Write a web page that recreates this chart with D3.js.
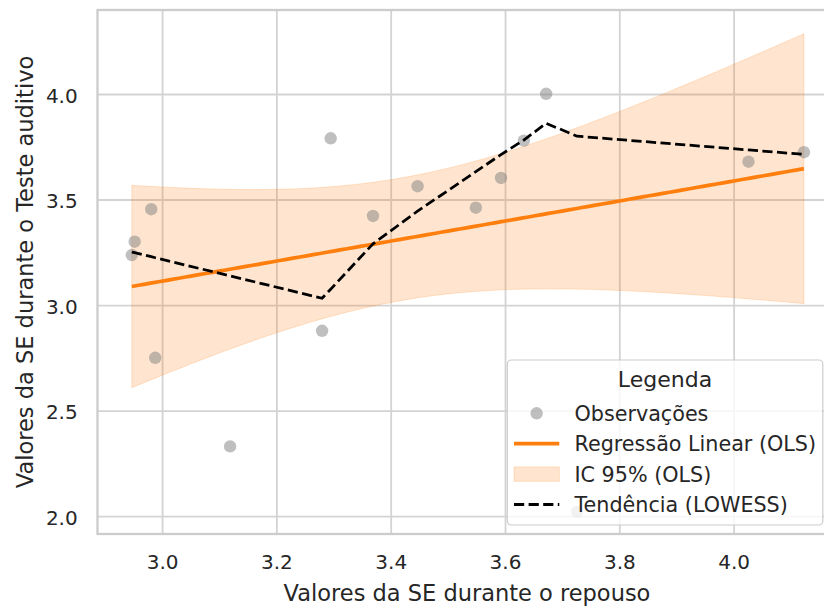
<!DOCTYPE html>
<html>
<head>
<meta charset="utf-8">
<script src="https://cdn.jsdelivr.net/npm/d3@7"></script>
<style>
  body { margin: 0; background: #fff; }
  svg { display: block; font-family: "DejaVu Sans", sans-serif; }
</style>
</head>
<body>
<svg id="chart" width="824" height="608"></svg>
<script>
// Observations: SE during rest (x) against SE during the auditory test (y)
const seRest = [2.947, 2.952, 2.981, 2.988, 3.119, 3.280, 3.295, 3.369, 3.447, 3.549, 3.593, 3.633, 3.672, 3.726, 4.026, 4.123];
const seTest = [3.237, 3.300, 3.454, 2.750, 2.330, 2.878, 3.790, 3.422, 3.563, 3.461, 3.602, 3.779, 4.001, 2.020, 3.679, 3.724];
// LOWESS fitted values, one per observation in the order above (already sorted by x)
const lowessFit = [3.251, 3.248, 3.229, 3.224, 3.138, 3.032, 3.075, 3.290, 3.445, 3.632, 3.713, 3.782, 3.861, 3.800, 3.735, 3.714];
const xTicks = [3.0, 3.2, 3.4, 3.6, 3.8, 4.0];
const yTicks = [2.0, 2.5, 3.0, 3.5, 4.0];
const legendTitle = "Legenda";
const legendLabels = ["Observações", "Regressão Linear (OLS)", "IC 95% (OLS)", "Tendência (LOWESS)"];
const xLabel = "Valores da SE durante o repouso";
const yLabel = "Valores da SE durante o Teste auditivo";

// ---- layout ----
const plotL = 97.5, plotR = 836.5, plotT = 10, plotB = 534;
const ORANGE = "#ff7f0e", INK = "#262626", GRID = "#d3d3d3", SPINE = "#cccccc";

const svg = d3.select("#chart");
svg.append("rect").attr("width", 824).attr("height", 608).attr("fill", "#fff");

const x = d3.scaleLinear().domain([2.887, 4.180]).range([plotL, plotR]);
const y = d3.scaleLinear().domain([1.915, 4.398]).range([plotB, plotT]);

// ---- OLS fit with 95% confidence band for the mean ----
const n = seRest.length;
const mx = d3.mean(seRest), my = d3.mean(seTest);
let sxx = 0, sxy = 0, syy = 0;
for (let i = 0; i < n; i++) {
  const dx = seRest[i] - mx, dy = seTest[i] - my;
  sxx += dx * dx; sxy += dx * dy; syy += dy * dy;
}
const slope = sxy / sxx, intercept = my - slope * mx;
const sResid = Math.sqrt((syy - slope * sxy) / (n - 2));
const tCrit = 2.1448; // Student t, 0.975 quantile, 14 degrees of freedom
const [xMin, xMax] = d3.extent(seRest);
const xs = d3.range(0, 101).map(k => xMin + (xMax - xMin) * k / 100);
const band = xs.map(v => {
  const fit = intercept + slope * v;
  const half = tCrit * sResid * Math.sqrt(1 / n + (v - mx) * (v - mx) / sxx);
  return { v, fit, lo: fit - half, hi: fit + half };
});

// ---- grid via axes ----
const gx = svg.append("g")
  .attr("transform", `translate(0,${plotB})`)
  .call(d3.axisBottom(x).tickValues(xTicks).tickFormat(d3.format(".1f"))
    .tickSize(-(plotB - plotT)).tickPadding(21));
gx.attr("font-size", 20).attr("font-family", "DejaVu Sans, sans-serif");
gx.select(".domain").remove();
gx.selectAll(".tick line").attr("stroke", GRID).attr("stroke-width", 1.8);
gx.selectAll(".tick text").attr("fill", INK);

const gy = svg.append("g")
  .attr("transform", `translate(${plotL},0)`)
  .call(d3.axisLeft(y).tickValues(yTicks).tickFormat(d3.format(".1f"))
    .tickSize(-(plotR - plotL)).tickPadding(19.8));
gy.attr("font-size", 20).attr("font-family", "DejaVu Sans, sans-serif");
gy.select(".domain").remove();
gy.selectAll(".tick line").attr("stroke", GRID).attr("stroke-width", 1.8);
gy.selectAll(".tick text").attr("fill", INK).attr("dy", "0.42em");

// ---- confidence band ----
svg.append("path")
  .datum(band)
  .attr("d", d3.area().x(d => x(d.v)).y0(d => y(d.lo)).y1(d => y(d.hi)))
  .attr("fill", ORANGE).attr("fill-opacity", 0.2)
  .attr("stroke", ORANGE).attr("stroke-opacity", 0.2).attr("stroke-width", 1);

// ---- observations ----
svg.append("g").selectAll("circle")
  .data(seRest.map((v, i) => [v, seTest[i]]))
  .join("circle")
  .attr("cx", d => x(d[0])).attr("cy", d => y(d[1])).attr("r", 6.2)
  .attr("fill", "#808080").attr("fill-opacity", 0.5);

// ---- OLS line ----
svg.append("path")
  .datum(band)
  .attr("d", d3.line().x(d => x(d.v)).y(d => y(d.fit)))
  .attr("fill", "none").attr("stroke", ORANGE).attr("stroke-width", 3.7);

// ---- LOWESS trend ----
svg.append("path")
  .datum(seRest.map((v, i) => [v, lowessFit[i]]))
  .attr("d", d3.line().x(d => x(d[0])).y(d => y(d[1])))
  .attr("fill", "none").attr("stroke", "#000").attr("stroke-width", 2.76)
  .attr("stroke-dasharray", "10.2,4.4");

// ---- spines ----
svg.append("rect")
  .attr("x", plotL).attr("y", plotT).attr("width", plotR - plotL).attr("height", plotB - plotT)
  .attr("fill", "none").attr("stroke", SPINE).attr("stroke-width", 2.3);

// ---- axis labels ----
svg.append("text")
  .attr("x", (plotL + plotR) / 2).attr("y", 600.5)
  .attr("text-anchor", "middle").attr("font-size", 22.5).attr("fill", INK)
  .text(xLabel);
svg.append("text")
  .attr("transform", `translate(33,${(plotT + plotB) / 2}) rotate(-90)`)
  .attr("text-anchor", "middle").attr("font-size", 22.5).attr("fill", INK)
  .text(yLabel);

// ---- legend ----
const lg = svg.append("g");
lg.append("rect")
  .attr("x", 507.3).attr("y", 360).attr("width", 315.5).attr("height", 165).attr("rx", 4)
  .attr("fill", "#fff").attr("fill-opacity", 0.8)
  .attr("stroke", SPINE).attr("stroke-width", 1.2);
lg.append("text")
  .attr("x", 665).attr("y", 386.7).attr("text-anchor", "middle")
  .attr("font-size", 22).attr("fill", INK).text(legendTitle);

const rowY = legendLabels.map((_, i) => 413.3 + i * 30.4);
const hx0 = 514, hx1 = 559.3;
lg.append("circle").attr("cx", (hx0 + hx1) / 2).attr("cy", rowY[0]).attr("r", 6.2)
  .attr("fill", "#808080").attr("fill-opacity", 0.5);
lg.append("line").attr("x1", hx0).attr("x2", hx1).attr("y1", rowY[1]).attr("y2", rowY[1])
  .attr("stroke", ORANGE).attr("stroke-width", 3.7);
lg.append("rect").attr("x", hx0).attr("y", rowY[2] - 7.2).attr("width", hx1 - hx0).attr("height", 14.4)
  .attr("fill", ORANGE).attr("fill-opacity", 0.2)
  .attr("stroke", ORANGE).attr("stroke-opacity", 0.2).attr("stroke-width", 1);
lg.append("line").attr("x1", hx0).attr("x2", hx1).attr("y1", rowY[3]).attr("y2", rowY[3])
  .attr("stroke", "#000").attr("stroke-width", 2.76).attr("stroke-dasharray", "10.2,4.4");
lg.selectAll("text.entry")
  .data(legendLabels)
  .join("text")
  .attr("class", "entry")
  .attr("x", 574.5).attr("y", (d, i) => rowY[i] + 7.4)
  .attr("font-size", 20.7).attr("fill", INK)
  .text(d => d);
</script>
</body>
</html>
